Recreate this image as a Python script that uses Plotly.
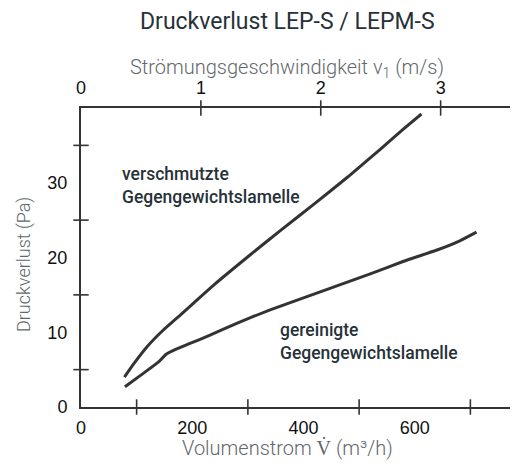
import plotly.graph_objects as go

# Data
dirty_x = [78, 95, 118, 148, 180, 240, 300, 360, 420, 480, 540, 580, 612]
dirty_y = [4.0, 5.8, 8.0, 10.3, 12.4, 16.4, 20.1, 23.7, 27.2, 30.8, 34.6, 37.2, 39.2]
clean_x = [79, 112, 139, 152, 170, 196, 232, 280, 340, 400, 460, 520, 580, 640, 680, 711]
clean_y = [2.7, 4.5, 6.0, 7.0, 7.7, 8.5, 9.6, 11.2, 13.0, 14.6, 16.2, 17.8, 19.5, 21.0, 22.2, 23.4]

x_labels = [0, 200, 400, 600]
x_ticks = [100, 300, 500, 700]
y_labels = [0, 10, 20, 30]
y_ticks = [5, 15, 25, 35]
v_labels = [0, 1, 2, 3]

X_MAX = 800
Y_MAX = 40
V_MAX = 3.712

LINE = "#333333"
TXT = "#263238"
GRAY = "#5f686c"

fig = go.Figure()
fig.add_trace(go.Scatter(x=dirty_x, y=dirty_y, mode="lines",
                         line=dict(color=LINE, width=3, shape="spline", smoothing=0.4),
                         hoverinfo="skip", showlegend=False))
fig.add_trace(go.Scatter(x=clean_x, y=clean_y, mode="lines",
                         line=dict(color=LINE, width=3, shape="spline", smoothing=0.4),
                         hoverinfo="skip", showlegend=False))
# crossing tick marks
fig.add_trace(go.Scatter(x=x_ticks, y=[0] * len(x_ticks), mode="markers", cliponaxis=False,
                         marker=dict(symbol="line-ns", size=11, line=dict(color=LINE, width=1.6)),
                         hoverinfo="skip", showlegend=False))
fig.add_trace(go.Scatter(x=[0] * len(y_ticks), y=y_ticks, mode="markers", cliponaxis=False,
                         marker=dict(symbol="line-ew", size=11, line=dict(color=LINE, width=1.6)),
                         hoverinfo="skip", showlegend=False))
fig.add_trace(go.Scatter(x=v_labels[1:], y=[Y_MAX] * 3, xaxis="x2", mode="markers", cliponaxis=False,
                         marker=dict(symbol="line-ns", size=11, line=dict(color=LINE, width=1.6)),
                         hoverinfo="skip", showlegend=False))

tickfont = dict(family="Liberation Sans, Arial", size=18, color="#111111")

fig.update_layout(
    width=518, height=468,
    margin=dict(l=73, r=0, t=100, b=69, autoexpand=False),
    paper_bgcolor="white", plot_bgcolor="white",
    xaxis=dict(range=[0, X_MAX], tickmode="array", tickvals=x_labels, ticks="", showgrid=False,
               zeroline=False, showline=True, linecolor=LINE, linewidth=2, tickfont=tickfont,
               ticklabelstandoff=3, automargin=False),
    xaxis2=dict(range=[0, V_MAX], overlaying="x", side="top", anchor="y", tickmode="array",
                tickvals=v_labels, ticks="", showgrid=False, zeroline=False, showline=True,
                linecolor=LINE, linewidth=2, tickfont=tickfont, ticklabelstandoff=5, automargin=False),
    yaxis=dict(range=[0, Y_MAX], tickmode="array", tickvals=y_labels, ticks="", showgrid=False,
               zeroline=False, showline=True, linecolor=LINE, linewidth=2, tickfont=tickfont,
               ticklabelstandoff=8, automargin=False),
    annotations=[
        dict(text="Druckverlust LEP-S / LEPM-S", xref="paper", yref="paper", x=0.463, y=1.288,
             xanchor="center", yanchor="middle", showarrow=False,
             font=dict(family="Roboto", size=23, color=TXT)),
        dict(text="Strömungsgeschwindigkeit v<sub>1</sub> (m/s)", xref="paper", yref="paper",
             x=0.463, y=1.134, xanchor="center", yanchor="middle", showarrow=False,
             font=dict(family="Roboto", size=20, color=GRAY, weight=300)),
        dict(text="Volumenstrom V̇ (m³/h)", xref="paper", yref="paper",
             x=0.463, y=-0.137, xanchor="center", yanchor="middle", showarrow=False,
             font=dict(family="Roboto", size=20, color=GRAY, weight=300)),
        dict(text="Druckverlust (Pa)", xref="paper", yref="paper", textangle=-90,
             x=-0.128, y=0.475, xanchor="center", yanchor="middle", showarrow=False,
             font=dict(family="Roboto", size=18, color=GRAY, weight=300)),
        dict(text="verschmutzte<br>Gegengewichtslamelle", x=70, y=29.6, xref="x", yref="y",
             xanchor="left", yanchor="middle", align="left", showarrow=False,
             font=dict(family="Roboto", size=17.5, color=TXT, weight=500)),
        dict(text="gereinigte<br>Gegengewichtslamelle", x=354, y=8.8, xref="x", yref="y",
             xanchor="left", yanchor="middle", align="left", showarrow=False,
             font=dict(family="Roboto", size=17.5, color=TXT, weight=500)),
    ],
)

fig.write_html("out.html")
